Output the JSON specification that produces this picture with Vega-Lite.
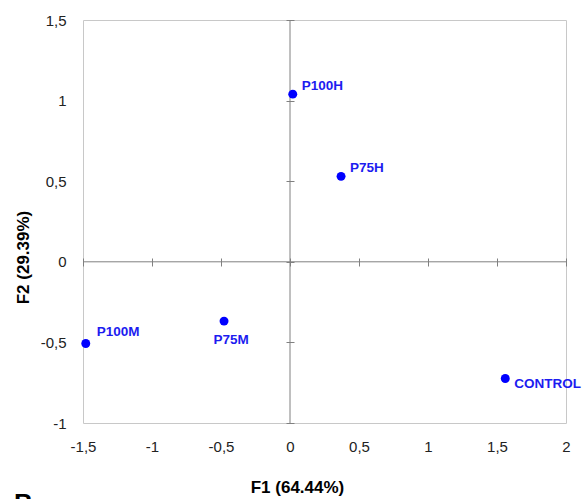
{
  "$schema": "https://vega.github.io/schema/vega-lite/v6.json",
  "width": 483,
  "height": 403,
  "autosize": {"type": "none"},
  "padding": {"left": 83, "top": 20, "right": 19, "bottom": 76},
  "background": "white",
  "config": {
    "view": {"stroke": "#c8c8c8", "strokeWidth": 1},
    "font": "Liberation Sans",
    "axis": {"grid": false}
  },
  "title": {"text": "B", "orient": "bottom", "anchor": "start", "frame": "bounds", "fontSize": 26, "fontWeight": "bold", "offset": -4, "baseline": "top", "color": "#000000"},
  "data": {
    "values": [
      {"label": "P100H", "F1": 0.02, "F2": 1.04},
      {"label": "P75H", "F1": 0.37, "F2": 0.53},
      {"label": "P100M", "F1": -1.48, "F2": -0.507},
      {"label": "P75M", "F1": -0.478, "F2": -0.368},
      {"label": "CONTROL", "F1": 1.56, "F2": -0.724}
    ]
  },
  "resolve": {"axis": {"x": "independent", "y": "independent"}},
  "layer": [
    {
      "data": {"values": [{}]},
      "mark": {"type": "rule", "color": "#808080", "strokeWidth": 1},
      "encoding": {
        "x": {"datum": 0, "type": "quantitative", "scale": {"domain": [-1.5, 2], "nice": false, "zero": false},
          "axis": {"orient": "bottom", "offset": -165, "values": [-1.5, -1, -0.5, 0, 0.5, 1, 1.5, 2], "labels": false, "domain": false, "ticks": true, "tickSize": 8, "tickColor": "#808080", "title": null}}
      }
    },
    {
      "data": {"values": [{}]},
      "mark": {"type": "rule", "color": "#808080", "strokeWidth": 1},
      "encoding": {
        "y": {"datum": 0, "type": "quantitative", "scale": {"domain": [-1, 1.5], "nice": false, "zero": false},
          "axis": {"orient": "left", "offset": -211, "values": [-1, -0.5, 0, 0.5, 1, 1.5], "labels": false, "domain": false, "ticks": true, "tickSize": 8, "tickColor": "#808080", "title": null}}
      }
    },
    {
      "mark": {"type": "point", "filled": true, "opacity": 1, "size": 80, "color": "#0000ff"},
      "encoding": {
        "x": {"field": "F1", "type": "quantitative", "scale": {"domain": [-1.5, 2], "nice": false, "zero": false},
          "axis": {"orient": "bottom", "values": [-1.5, -1, -0.5, 0, 0.5, 1, 1.5, 2], "ticks": false, "domain": false, "labelPadding": 16, "labelFontSize": 15, "labelColor": "#222222", "labelFlush": false, "labelOverlap": false, "labelBound": false,
            "labelExpr": "(datum.value < 0 ? '-' : '') + replace(format(abs(datum.value), ''), '.', ',')",
            "title": "F1 (64.44%)", "titleFontSize": 17, "titleFontWeight": "bold", "titleColor": "#000000", "titleX": 214, "titleY": 64, "titleBaseline": "middle", "titleAlign": "center"}},
        "y": {"field": "F2", "type": "quantitative", "scale": {"domain": [-1, 1.5], "nice": false, "zero": false},
          "axis": {"orient": "left", "values": [-1, -0.5, 0, 0.5, 1, 1.5], "ticks": false, "domain": false, "labelPadding": 17, "labelFontSize": 15, "labelColor": "#222222", "labelFlush": false, "labelOverlap": false, "labelBound": false,
            "labelExpr": "(datum.value < 0 ? '-' : '') + replace(format(abs(datum.value), ''), '.', ',')",
            "title": "F2 (29.39%)", "titleFontSize": 17, "titleFontWeight": "bold", "titleColor": "#000000", "titleX": -60, "titleY": 237, "titleAngle": 270, "titleBaseline": "middle", "titleAlign": "center"}}
      }
    },
    {
      "transform": [{"filter": "datum.label === 'P100H' || datum.label === 'P75H'"}],
      "mark": {"type": "text", "align": "left", "baseline": "middle", "dx": 9, "dy": -8, "fontSize": 13.5, "fontWeight": "bold", "color": "#1c1cf0"},
      "encoding": {
        "x": {"field": "F1", "type": "quantitative", "axis": null},
        "y": {"field": "F2", "type": "quantitative", "axis": null},
        "text": {"field": "label"}
      }
    },
    {
      "transform": [{"filter": "datum.label === 'P100M'"}],
      "mark": {"type": "text", "align": "left", "baseline": "middle", "dx": 11, "dy": -12, "fontSize": 13.5, "fontWeight": "bold", "color": "#1c1cf0"},
      "encoding": {
        "x": {"field": "F1", "type": "quantitative", "axis": null},
        "y": {"field": "F2", "type": "quantitative", "axis": null},
        "text": {"field": "label"}
      }
    },
    {
      "transform": [{"filter": "datum.label === 'P75M'"}],
      "mark": {"type": "text", "align": "center", "baseline": "middle", "dx": 7, "dy": 19, "fontSize": 13.5, "fontWeight": "bold", "color": "#1c1cf0"},
      "encoding": {
        "x": {"field": "F1", "type": "quantitative", "axis": null},
        "y": {"field": "F2", "type": "quantitative", "axis": null},
        "text": {"field": "label"}
      }
    },
    {
      "transform": [{"filter": "datum.label === 'CONTROL'"}],
      "mark": {"type": "text", "align": "left", "baseline": "middle", "dx": 9, "dy": 5, "fontSize": 13.5, "fontWeight": "bold", "color": "#1c1cf0"},
      "encoding": {
        "x": {"field": "F1", "type": "quantitative", "axis": null},
        "y": {"field": "F2", "type": "quantitative", "axis": null},
        "text": {"field": "label"}
      }
    }
  ]
}
